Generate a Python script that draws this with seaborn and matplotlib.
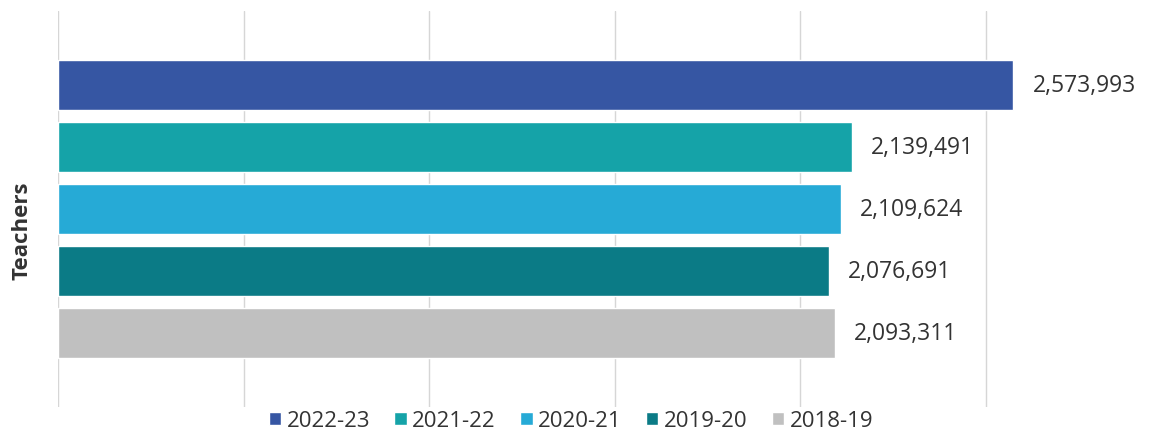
import pandas as pd
import seaborn as sns
import matplotlib.pyplot as plt

years = ['2022-23', '2021-22', '2020-21', '2019-20', '2018-19']
teachers = [2573993, 2139491, 2109624, 2076691, 2093311]
colors = ['#3656a3', '#15a3a8', '#26aad6', '#0b7b86', '#c0c0c0']

df = pd.DataFrame({'group': ['Teachers'] * len(years), 'year': years, 'value': teachers})

sns.set_theme(style='white')
plt.rcParams['font.family'] = ['Open Sans', 'DejaVu Sans']

fig = plt.figure(figsize=(11.49, 4.35), dpi=100)
ax = fig.add_axes([0.0505, 0.062, 0.9365, 0.910])

sns.barplot(data=df, y='group', x='value', hue='year', hue_order=years,
            palette=dict(zip(years, colors)), orient='h', width=1, gap=0.2,
            saturation=1, ax=ax, legend=True)

for c in ax.containers:
    ax.bar_label(c, labels=[f'{v:,.0f}' for v in c.datavalues], padding=14,
                 fontsize=16.5, color='#333333')

ax.set_xlim(0, 2900000)
ax.set_ylim(0.639, -0.639)
ax.set_xticks([0, 500000, 1000000, 1500000, 2000000, 2500000])
ax.xaxis.grid(True, color='#d6d6d6', linewidth=1)
ax.set_axisbelow(True)
ax.tick_params(axis='x', length=0, labelbottom=False)
ax.tick_params(axis='y', length=0, labelleft=False)
for s in ax.spines.values():
    s.set_visible(False)
ax.set_xlabel('')
ax.set_ylabel('')
fig.text(0.019, 0.47, 'Teachers', rotation=90, fontsize=16, fontweight='bold',
         color='#333333', ha='center', va='center')

handles, labels = ax.get_legend_handles_labels()
ax.legend(handles, labels, loc='center', bbox_to_anchor=(0.497, 0.03),
          bbox_transform=fig.transFigure, ncol=5, frameon=False, fontsize=16,
          handlelength=0.55, handleheight=0.55, handletextpad=0.25,
          columnspacing=1.1, labelcolor='#333333', borderpad=0)

fig.savefig('out.png', dpi=100)
